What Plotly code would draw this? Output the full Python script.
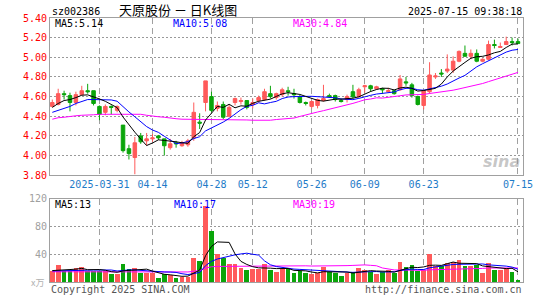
import pandas as pd
import plotly.graph_objects as go

# ---------------- data ----------------
holidays = ["2025-04-04", "2025-05-01", "2025-05-02", "2025-05-05", "2025-06-02"]
dates = [d.strftime("%Y-%m-%d") for d in pd.bdate_range("2025-03-19", "2025-07-15")
         if d.strftime("%Y-%m-%d") not in holidays]

opens = [4.50, 4.52, 4.63, 4.61, 4.54, 4.62, 4.66, 4.66, 4.50, 4.44,
         4.50, 4.46, 4.31, 4.07, 3.98, 4.20, 4.15, 4.17, 4.20, 4.17,
         4.08, 4.13, 4.10, 4.11, 4.18, 4.34, 4.54, 4.60, 4.48, 4.52,
         4.40, 4.54, 4.55, 4.56, 4.52, 4.56, 4.57, 4.63, 4.59, 4.62,
         4.66, 4.63, 4.60, 4.54, 4.50, 4.51, 4.56, 4.61, 4.61, 4.56,
         4.57, 4.65, 4.60, 4.70, 4.71, 4.68, 4.68, 4.65, 4.66, 4.67,
         4.75, 4.72, 4.60, 4.51, 4.65, 4.80, 4.84, 4.86, 4.87, 4.96,
         5.04, 5.01, 5.04, 4.96, 4.98, 5.13, 5.10, 5.13, 5.16, 5.16]
highs = [4.57, 4.68, 4.66, 4.64, 4.65, 4.71, 4.73, 4.66, 4.51, 4.52,
         4.51, 4.51, 4.31, 4.11, 4.19, 4.23, 4.23, 4.22, 4.21, 4.17,
         4.17, 4.15, 4.15, 4.17, 4.54, 4.43, 4.76, 4.65, 4.55, 4.55,
         4.52, 4.59, 4.59, 4.56, 4.58, 4.61, 4.68, 4.71, 4.64, 4.69,
         4.70, 4.68, 4.62, 4.55, 4.56, 4.58, 4.72, 4.63, 4.62, 4.58,
         4.62, 4.72, 4.69, 4.72, 4.72, 4.71, 4.69, 4.69, 4.67, 4.82,
         4.80, 4.74, 4.61, 4.66, 4.95, 4.84, 4.88, 5.03, 5.01, 5.07,
         5.12, 5.08, 5.08, 4.99, 5.17, 5.18, 5.15, 5.21, 5.20, 5.19]
lows = [4.49, 4.51, 4.57, 4.45, 4.51, 4.61, 4.63, 4.51, 4.36, 4.41,
        4.42, 4.44, 4.03, 3.96, 3.81, 4.12, 4.10, 4.14, 4.16, 4.00,
        4.06, 4.08, 4.09, 4.09, 4.15, 4.27, 4.45, 4.44, 4.45, 4.37,
        4.39, 4.51, 4.52, 4.47, 4.48, 4.54, 4.56, 4.58, 4.57, 4.60,
        4.61, 4.58, 4.53, 4.51, 4.48, 4.48, 4.55, 4.59, 4.55, 4.54,
        4.54, 4.58, 4.59, 4.64, 4.65, 4.67, 4.63, 4.64, 4.62, 4.66,
        4.71, 4.59, 4.51, 4.47, 4.63, 4.78, 4.80, 4.84, 4.84, 4.95,
        5.01, 4.98, 4.95, 4.95, 4.97, 5.09, 5.10, 5.13, 5.12, 5.14]
closes = [4.54, 4.63, 4.62, 4.54, 4.62, 4.66, 4.65, 4.53, 4.42, 4.50,
          4.49, 4.50, 4.05, 4.02, 4.13, 4.14, 4.17, 4.18, 4.18, 4.10,
          4.12, 4.12, 4.13, 4.15, 4.44, 4.33, 4.76, 4.46, 4.51, 4.39,
          4.49, 4.58, 4.56, 4.49, 4.54, 4.59, 4.65, 4.60, 4.63, 4.67,
          4.65, 4.62, 4.54, 4.53, 4.55, 4.57, 4.58, 4.60, 4.57, 4.55,
          4.60, 4.60, 4.67, 4.71, 4.68, 4.70, 4.67, 4.66, 4.63, 4.78,
          4.74, 4.61, 4.52, 4.66, 4.82, 4.81, 4.83, 4.88, 4.96, 5.06,
          5.01, 5.04, 4.96, 4.98, 5.13, 5.12, 5.11, 5.16, 5.15, 5.14]
volumes = [15.7, 25.2, 15.7, 15.7, 20.5, 21.4, 15.7, 16.7, 15.7, 15.7,
           11.0, 11.0, 26.7, 19.5, 20.5, 13.8, 12.4, 12.4, 6.2, 11.0,
           10.0, 6.2, 7.6, 7.6, 34.7, 30.0, 110.0, 74.3, 40.5, 34.7,
           26.7, 26.7, 20.5, 18.1, 18.6, 18.6, 26.7, 18.1, 14.8, 19.5,
           18.6, 13.3, 15.7, 13.3, 11.0, 12.4, 21.9, 14.8, 12.4, 9.0,
           13.8, 14.8, 20.5, 18.1, 14.8, 11.0, 14.8, 18.1, 12.4, 29.0,
           21.9, 25.2, 15.7, 17.1, 40.5, 23.3, 23.3, 28.1, 29.0, 31.9,
           23.3, 23.3, 25.2, 12.4, 27.6, 18.1, 18.1, 20.5, 14.8, 2.4]

# moving-average values before enough history is visible
ma5_lead = [4.49, 4.53, 4.56, 4.57]
ma10_lead = [4.44, 4.46, 4.48, 4.50, 4.53, 4.55, 4.57, 4.57, 4.57]
ma30_lead = [4.37, 4.385, 4.39, 4.40, 4.405, 4.41, 4.41, 4.415, 4.42, 4.42,
             4.42, 4.42, 4.425, 4.425, 4.42, 4.42, 4.41, 4.40, 4.395, 4.39,
             4.38, 4.375, 4.37, 4.37, 4.37, 4.365, 4.365, 4.365, 4.365]
vma5_lead = [16.5, 17.3, 17.8, 18.0]
vma10_lead = [16.0, 16.0, 16.2, 16.4, 16.6, 16.8, 17.0, 17.2, 17.5]
vma30_lead = [14.8, 14.8, 14.9, 14.9, 15.0, 15.0, 15.0, 15.0, 15.0, 15.0,
              15.0, 15.0, 15.2, 15.2, 15.2, 15.0, 15.0, 14.8, 14.6, 14.5,
              14.4, 14.3, 14.3, 14.5, 15.5, 16.5, 20.0, 22.0, 22.5]

tick_dates = ["2025-03-31", "2025-04-14", "2025-04-28", "2025-05-12",
              "2025-05-26", "2025-06-09", "2025-06-23", "2025-07-15"]
tick_labels = ["2025-03-31", "04-14", "04-28", "05-12", "05-26", "06-09", "06-23", "07-15"]
price_ticks = [3.80, 4.00, 4.20, 4.40, 4.60, 4.80, 5.00, 5.20, 5.40]
vol_ticks = [40, 80, 120]
ma_label_values = ["5.14", "5.08", "4.84"]
vma_label_values = ["13", "17", "19"]
stock_code = "sz002386"
title_text = "天原股份 － 日K线图"
timestamp = "2025-07-15 09:38:18"


def moving_avg(vals, n, lead):
    out = list(lead)
    for i in range(len(lead), len(vals)):
        out.append(sum(vals[i - n + 1:i + 1]) / n)
    return out


xs = list(range(len(dates)))
ma5 = moving_avg(closes, 5, ma5_lead)
ma10 = moving_avg(closes, 10, ma10_lead)
ma30 = moving_avg(closes, 30, ma30_lead)
vma5 = moving_avg(volumes, 5, vma5_lead)
vma10 = moving_avg(volumes, 10, vma10_lead)
vma30 = moving_avg(volumes, 30, vma30_lead)

RED = "#ff5a5a"
GREEN = "#0aa50a"
BLUE = "#0000ff"
MAG = "#ff00ff"
MONO = "DejaVu Sans Mono"

tickvals = [dates.index(d) for d in tick_dates]
L, R, T, B = 50, 529, 18, 285
W, H = 545, 300


def px(x):
    return (x - L) / (R - L)


def py(y):
    return (B - y) / (B - T)


fig = go.Figure()
fig.add_trace(go.Candlestick(
    x=xs, open=opens, high=highs, low=lows, close=closes,
    increasing=dict(line=dict(color=RED, width=1), fillcolor=RED),
    decreasing=dict(line=dict(color=GREEN, width=1), fillcolor=GREEN),
    whiskerwidth=0, xaxis="x", yaxis="y", showlegend=False))
for vals, col in [(ma30, MAG), (ma10, BLUE), (ma5, "black")]:
    fig.add_trace(go.Scatter(x=xs, y=vals, mode="lines", line=dict(color=col, width=1),
                             xaxis="x", yaxis="y", showlegend=False))

bar_colors = [RED if c >= o else GREEN for o, c in zip(opens, closes)]
fig.add_trace(go.Bar(x=xs, y=volumes, marker=dict(color=bar_colors, line=dict(width=0)),
                     width=0.8, xaxis="x2", yaxis="y2", showlegend=False))
for vals, col in [(vma30, MAG), (vma10, BLUE), (vma5, "black")]:
    fig.add_trace(go.Scatter(x=xs, y=vals, mode="lines", line=dict(color=col, width=1),
                             xaxis="x2", yaxis="y2", showlegend=False))

frame = dict(showline=True, linecolor="#a0a0a0", linewidth=1, mirror=True, zeroline=False,
             layer="below traces")
xgrid = dict(showgrid=True, gridcolor="#a0a0a0", gridwidth=1, griddash="6px,4px")
ygrid = dict(showgrid=True, gridcolor="#999999", gridwidth=1, griddash="2px,2px")

fig.update_layout(
    width=W, height=H, margin=dict(l=L, r=W - R, t=T, b=H - B),
    paper_bgcolor="white", plot_bgcolor="white", bargap=0, boxgap=0.15,
    xaxis=dict(domain=[0, 1], anchor="y", range=[-0.39, 79.85], tickvals=tickvals,
               ticktext=tick_labels, ticks="", rangeslider=dict(visible=False),
               tickfont=dict(family=MONO, size=10, color="#1e7bc8"), **frame, **xgrid),
    yaxis=dict(domain=[py(177), 1], anchor="x", range=[3.80, 5.40], tickvals=price_ticks,
               ticktext=[f"{v:.2f}" for v in price_ticks], ticks="",
               tickfont=dict(family=MONO, size=10, color="red"), **frame, **ygrid),
    xaxis2=dict(domain=[0, 1], anchor="y2", matches="x", range=[-0.39, 79.85],
                tickvals=tickvals, showticklabels=False, ticks="", **frame, **xgrid),
    yaxis2=dict(domain=[0, py(201)], anchor="x2", range=[0, 120], tickvals=vol_ticks,
                ticktext=[str(v) for v in vol_ticks], ticks="",
                tickfont=dict(family=MONO, size=10, color="#a0a0a0"), **frame, **ygrid),
)


def note(text, x, y, anchor="left", color="black", size=10, family=MONO, **kw):
    fig.add_annotation(text=text, x=px(x), y=py(y), xref="paper", yref="paper",
                       xanchor=anchor, yanchor="middle", showarrow=False,
                       font=dict(family=family, size=size, color=color), **kw)


note(stock_code, 50, 11)
note(title_text, 118, 9.5, size=13, family="Noto Sans CJK SC")
note(timestamp, 530, 11, anchor="right")
note("MA5:" + ma_label_values[0], 53, 24)
note("MA10:" + ma_label_values[1], 173, 24, color=BLUE)
note("MA30:" + ma_label_values[2], 294, 24, color=MAG)
note("MA5:" + vma_label_values[0], 53, 206.5)
note("MA10:" + vma_label_values[1], 174, 206.5, color=BLUE)
note("MA30:" + vma_label_values[2], 294, 206.5, color=MAG)
note("Copyright 2025 SINA.COM", 49, 293, color="#555555")
note("http://finance.sina.com.cn", 530, 293, anchor="right", color="#555555")
note("x万", 46, 285, anchor="right", color="#b0b0b0", size=9, family="Noto Sans CJK SC")
note("<b><i>sina</i></b>", 528, 163, anchor="right", color="rgba(150,150,150,0.55)",
     size=16, family="DejaVu Sans")

fig.write_html("out.html")
